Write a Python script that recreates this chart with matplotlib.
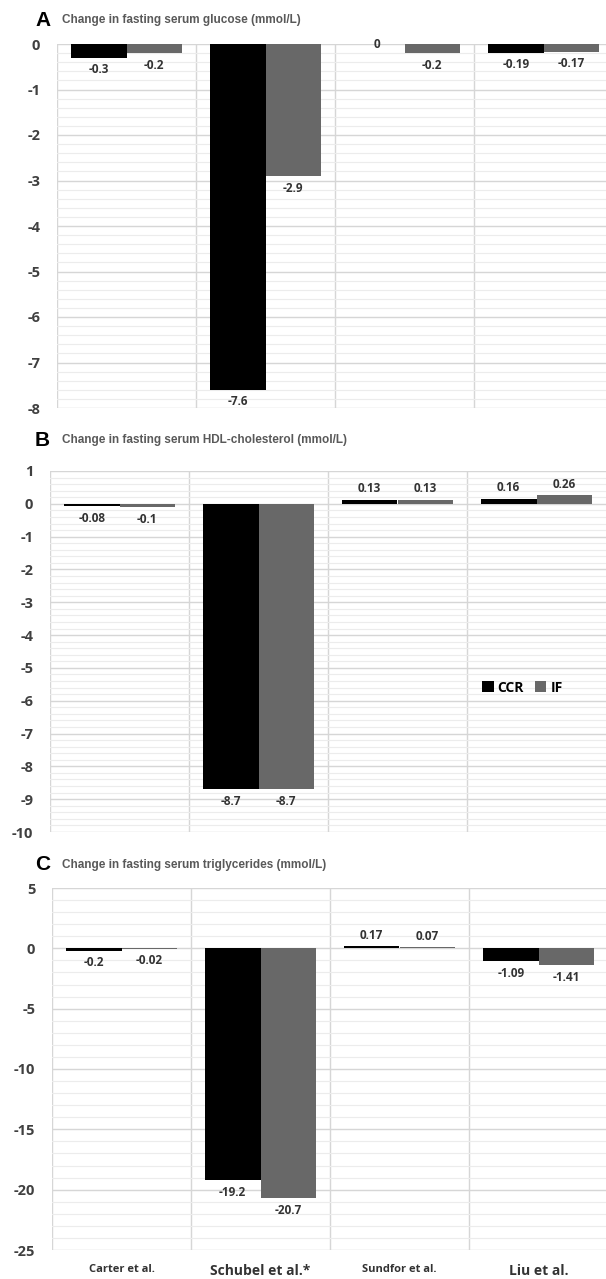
import matplotlib.pyplot as plt
import numpy as np
from matplotlib.ticker import MultipleLocator

plt.rcParams['axes.unicode_minus'] = False

# Study names and series
studies = ['Carter et al.', 'Schubel et al.*', 'Sundfor et al.', 'Liu et al.']
series = ['CCR', 'IF']

glucose_ccr = [-0.3, -7.6, 0, -0.19]
glucose_if = [-0.2, -2.9, -0.2, -0.17]

hdl_ccr = [-0.08, -8.7, 0.13, 0.16]
hdl_if = [-0.1, -8.7, 0.13, 0.26]

tg_ccr = [-0.2, -19.2, 0.17, -1.09]
tg_if = [-0.02, -20.7, 0.07, -1.41]

colors = ['#000000', '#686868']
W, H = 606, 1279
FONT = 'Open Sans'

fig = plt.figure(figsize=(W / 100, H / 100), dpi=100)


def add_panel(left, top, bottom, letter, title, ccr, iff, ylim, major, minor, title_y):
    ax = fig.add_axes([left / W, 1 - bottom / H, 556 / W, (bottom - top) / H])
    x = np.arange(len(studies))
    w = 0.4
    for vals, off, c, name in [(ccr, -w / 2, colors[0], series[0]), (iff, w / 2, colors[1], series[1])]:
        ax.bar(x + off, vals, width=w, color=c, label=name, zorder=3)
        for xi, v in zip(x + off, vals):
            if v < 0:
                dy, va = -4, 'top'
            elif v == 0:
                dy, va = 0, 'center'
            else:
                dy, va = 3, 'bottom'
            ax.annotate(f'{v:g}', (xi, v), xytext=(0, dy), textcoords='offset points',
                        ha='center', va=va, fontsize=8.5, fontweight='bold',
                        color='#333333', family=FONT, annotation_clip=False)
    ax.set_xlim(-0.5, 3.5)
    ax.set_ylim(*ylim)
    ax.yaxis.set_major_locator(MultipleLocator(major))
    ax.yaxis.set_minor_locator(MultipleLocator(minor))
    ax.grid(which='major', axis='y', color='#d6d6d6', lw=1, zorder=0)
    ax.grid(which='minor', axis='y', color='#ececec', lw=0.8, zorder=0)
    for b in [-0.5, 0.5, 1.5, 2.5]:
        ax.axvline(b, color='#d6d6d6', lw=1, zorder=1)
    for s in ax.spines.values():
        s.set_visible(False)
    ax.tick_params(axis='y', which='both', length=0, pad=12, labelsize=10.5, labelcolor='#404040')
    for t in ax.get_yticklabels():
        t.set_fontweight('bold')
        t.set_family(FONT)
    ax.set_xticks(x)
    ax.tick_params(axis='x', length=0)
    ax.set_xticklabels([])
    fig.text(35 / W, 1 - title_y / H, letter, fontsize=15, fontweight='bold',
             va='center', ha='left', family='Liberation Sans')
    fig.text(62 / W, 1 - title_y / H, title, fontsize=8.5, fontweight='bold',
             color='#595959', va='center', ha='left', family='Liberation Sans')
    return ax


axA = add_panel(57, 44, 408, 'A', 'Change in fasting serum glucose (mmol/L)',
                glucose_ccr, glucose_if, (-8, 0), 1, 0.2, 20)
axB = add_panel(50, 471, 832, 'B', 'Change in fasting serum HDL-cholesterol (mmol/L)',
                hdl_ccr, hdl_if, (-10, 1), 1, 0.2, 440)
axC = add_panel(52, 888, 1250, 'C', 'Change in fasting serum triglycerides (mmol/L)',
                tg_ccr, tg_if, (-25, 5), 5, 1, 865)

axB.legend(loc='center', bbox_to_anchor=(0.85, 0.4), ncol=2, frameon=False,
           handlelength=0.8, handleheight=0.8, handletextpad=0.3, columnspacing=0.8,
           prop={'family': FONT, 'weight': 'bold', 'size': 10})

axC.set_xticks(np.arange(len(studies)))
axC.set_xticklabels(studies)
axC.tick_params(axis='x', pad=10)
for t, fs in zip(axC.get_xticklabels(), [8, 10, 8, 10]):
    t.set_fontweight('bold')
    t.set_family(FONT)
    t.set_fontsize(fs)
    t.set_color('#333333')

fig.savefig('out.png', dpi=100)
